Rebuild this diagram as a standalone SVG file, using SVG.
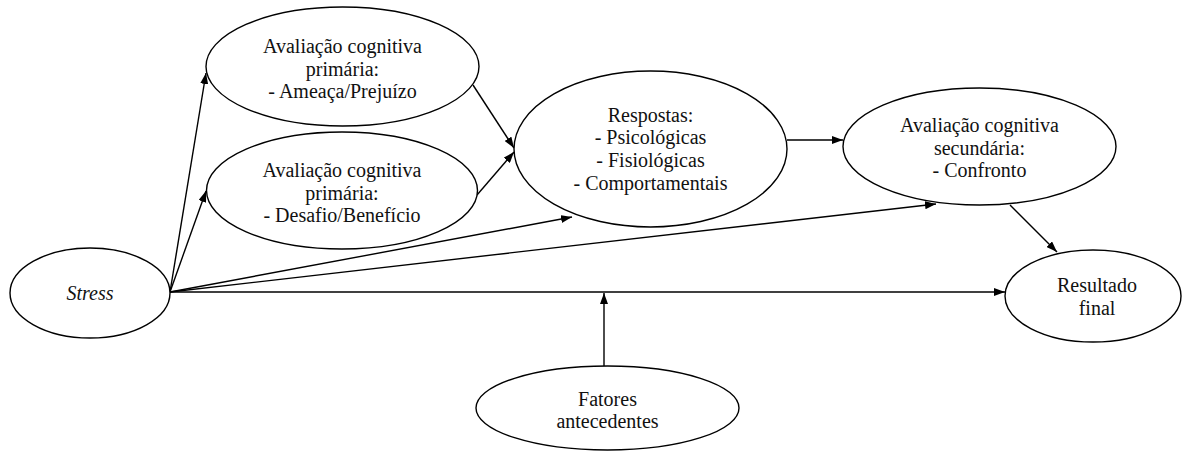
<svg xmlns="http://www.w3.org/2000/svg" width="1182" height="452" viewBox="0 0 1182 452">
<style>
.node ellipse{fill:#fff;stroke:#000;stroke-width:1.4}
.node text{font-size:20px;fill:#111;text-anchor:middle}
.conn path{fill:none;stroke:#000;stroke-width:1.4;marker-end:url(#ah)}
</style>
<defs>
<marker id="ah" markerUnits="userSpaceOnUse" markerWidth="11" markerHeight="8" refX="11" refY="4" orient="auto">
<path d="M0,0 L11,4 L0,8 z" fill="#000"/>
</marker>
</defs>
<rect width="1182" height="452" fill="#fff"/>
<g id="connectors" class="conn">
<path d="M170,292 L206,73"/>
<path d="M170,292 L206,191"/>
<path d="M473,85 L514,148"/>
<path d="M477,195 L514,152"/>
<path d="M170,292 L572,217"/>
<path d="M170,292 L936,204"/>
<path d="M787,140 L843,140"/>
<path d="M1010,205 L1057,252"/>
<path d="M170,292 L1005,292"/>
<path d="M604,366 L604,293"/>
</g>
<g font-family="Liberation Serif, serif">
<g id="stress" class="node">
<ellipse cx="90" cy="293" rx="80" ry="45"/>
<text x="90" y="300" font-style="italic">Stress</text>
</g>
<g id="primaria-ameaca" class="node">
<ellipse cx="342.5" cy="66.5" rx="136.5" ry="59.5"/>
<text x="342.5" y="53">Avaliação cognitiva</text>
<text x="342.5" y="75.5">primária:</text>
<text x="342.5" y="98">- Ameaça/Prejuízo</text>
</g>
<g id="primaria-desafio" class="node">
<ellipse cx="342" cy="190.5" rx="135.5" ry="58.5"/>
<text x="342" y="177">Avaliação cognitiva</text>
<text x="342" y="199.5">primária:</text>
<text x="342" y="222">- Desafio/Benefício</text>
</g>
<g id="respostas" class="node">
<ellipse cx="650.5" cy="149" rx="136.5" ry="78"/>
<text x="650.5" y="121.5">Respostas:</text>
<text x="650.5" y="144">- Psicológicas</text>
<text x="650.5" y="167">- Fisiológicas</text>
<text x="650.5" y="190">- Comportamentais</text>
</g>
<g id="secundaria" class="node">
<ellipse cx="979.5" cy="146.5" rx="136.5" ry="58.5"/>
<text x="979.5" y="132">Avaliação cognitiva</text>
<text x="979.5" y="154.5">secundária:</text>
<text x="979.5" y="177">- Confronto</text>
</g>
<g id="resultado" class="node">
<ellipse cx="1093" cy="296" rx="88" ry="46"/>
<text x="1097" y="292">Resultado</text>
<text x="1097" y="315">final</text>
</g>
<g id="fatores" class="node">
<ellipse cx="607.5" cy="408" rx="131.5" ry="42"/>
<text x="607.5" y="406">Fatores</text>
<text x="607.5" y="428">antecedentes</text>
</g>
</g>
</svg>
